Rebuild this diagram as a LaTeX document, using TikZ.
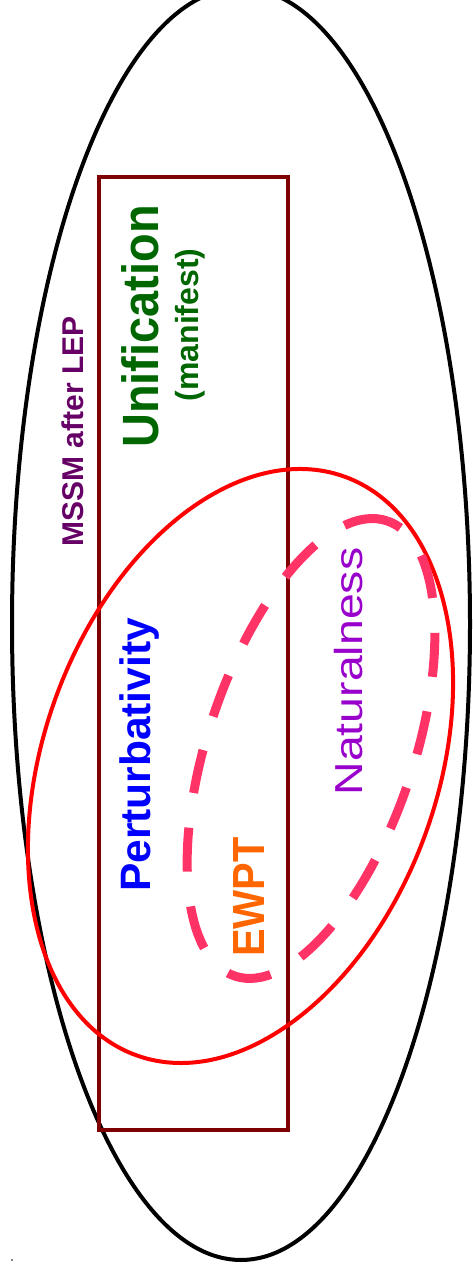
\documentclass[tikz,border=0pt]{standalone}
\usepackage{fontspec}
\setmainfont{Liberation Sans}
\usepackage{graphicx}
\usepackage{tikz}
\usetikzlibrary{positioning}
\usepackage{xcolor}
\definecolor{MSSMPurple}{RGB}{102,0,102}
\definecolor{UnifGreen}{RGB}{0,102,0}
\definecolor{RegionRed}{RGB}{127,0,0}
\definecolor{EWPTPink}{RGB}{255,51,102}
\definecolor{EWPTOrange}{RGB}{255,102,0}
\definecolor{NatPurple}{RGB}{153,0,204}
\newcommand{\lblsize}[1]{\fontsize{#1}{#1}\selectfont}

\tikzset{
    vlabel/.style={rotate=90, anchor=base, inner sep=0pt}
}

\begin{document}
\begin{tikzpicture}[x=1pt, y=1pt]
    \useasboundingbox (0,0) rectangle (472,1276);
    % regions
    \draw[line width=4pt] (241,652) ellipse [x radius=229, y radius=636];
    \draw[RegionRed, line width=4pt] (98.5,145.5) rectangle (288,1099);
    \draw[red, line width=4pt, rotate around={70.25:(240.5,510)}]
        (240.5,510) ellipse [x radius=307.5, y radius=197];
    \draw[EWPTPink, line width=9pt, dash pattern=on 44pt off 35pt,
          rotate around={71.5:(311,527.5)}]
        (311,527.5) ellipse [x radius=240, y radius=103];
    \fill (12,16) circle (0.8);
    % labels
    \node[vlabel, font=\lblsize{30}\bfseries, text=MSSMPurple] (mssm) at (83,844.5) {MSSM after LEP};
    \node[vlabel, font=\lblsize{51}\bfseries, text=UnifGreen] (unif) at (158,949.5) {\scalebox{0.92}[1]{Unification}};
    \node[vlabel, font=\lblsize{32}\bfseries, text=UnifGreen] (manif) at (198.5,951) {(manifest)};
    \node[vlabel, font=\lblsize{42.5}\bfseries, text=blue] (pert) at (150,521) {Perturbativity};
    \node[vlabel, font=\lblsize{45}\bfseries, text=EWPTOrange] (ewpt) at (264,379) {\scalebox{0.92}[1]{EWPT}};
    \node[vlabel, font=\lblsize{39}, text=NatPurple] (nat) at (362,604.5) {\scalebox{1.19}[1]{Naturalness}};
\end{tikzpicture}
\end{document}
